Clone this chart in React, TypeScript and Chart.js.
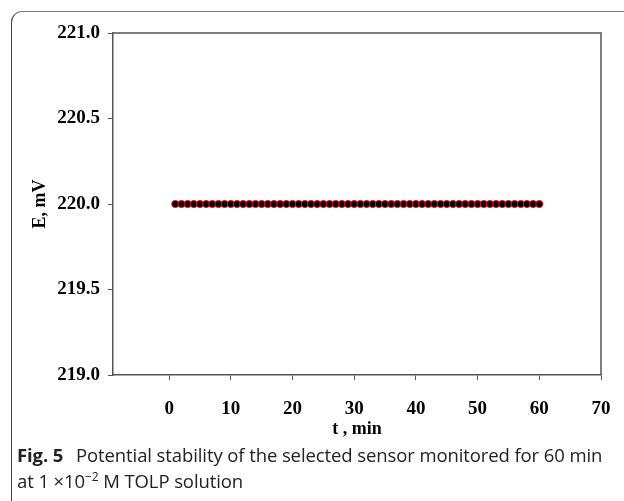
import React, { useEffect, useRef } from "react";
import { Chart, registerables } from "chart.js";

Chart.register(...registerables);

const timesMin: number[] = Array.from({ length: 60 }, (_, i) => i + 1);
const potentialMv: number[] = [
  220, 220, 220, 220, 220, 220, 220, 220, 220, 220,
  220, 220, 220, 220, 220, 220, 220, 220, 220, 220,
  220, 220, 220, 220, 220, 220, 220, 220, 220, 220,
  220, 220, 220, 220, 220, 220, 220, 220, 220, 220,
  220, 220, 220, 220, 220, 220, 220, 220, 220, 220,
  220, 220, 220, 220, 220, 220, 220, 220, 220, 220,
];
const xTicks: number[] = [0, 10, 20, 30, 40, 50, 60, 70];
const yTicks: number[] = [219, 219.5, 220, 220.5, 221];
const xTitle = "t , min";
const yTitle = "E, mV";

const serif = "'Liberation Serif', 'Times New Roman', serif";

export default function App() {
  const ref = useRef<HTMLCanvasElement | null>(null);

  useEffect(() => {
    if (!ref.current) return;
    const chart = new Chart(ref.current, {
      type: "scatter",
      data: {
        datasets: [
          {
            data: timesMin.map((t, i) => ({ x: t, y: potentialMv[i] })),
            backgroundColor: "#000000",
            borderColor: "#e8101a",
            borderWidth: 1,
            pointRadius: 3.6,
          },
        ],
      },
      options: {
        animation: false,
        responsive: false,
        layout: { padding: { top: 33, right: 23, left: 0, bottom: 0 } },
        plugins: { legend: { display: false }, tooltip: { enabled: false } },
        scales: {
          x: {
            type: "linear",
            min: -9.1,
            max: 70,
            afterBuildTicks: (s: any) => {
              s.ticks = xTicks.map((v) => ({ value: v }));
            },
            afterFit: (s: any) => {
              s.height = 70;
              s.paddingLeft = 0;
              s.paddingRight = 0;
            },
            grid: {
              drawOnChartArea: false,
              drawTicks: true,
              tickLength: 5,
              color: "#555",
            },
            border: { color: "#555", width: 1.5 },
            ticks: {
              color: "#000",
              font: { family: serif, size: 19, weight: "bold" },
              padding: 18,
              maxRotation: 0,
              callback: (v: any) => String(v),
            },
            title: {
              display: true,
              text: xTitle,
              color: "#000",
              font: { family: serif, size: 18, weight: "bold" },
              padding: { top: 0, bottom: 5 },
            },
          },
          y: {
            type: "linear",
            min: 219,
            max: 221,
            afterBuildTicks: (s: any) => {
              s.ticks = yTicks.map((v) => ({ value: v }));
            },
            afterFit: (s: any) => {
              s.width = 113;
              s.paddingTop = 0;
              s.paddingBottom = 0;
            },
            grid: {
              drawOnChartArea: false,
              drawTicks: true,
              tickLength: 5,
              color: "#555",
            },
            border: { color: "#555", width: 1.5 },
            ticks: {
              color: "#000",
              font: { family: serif, size: 19, weight: "bold" },
              padding: 8,
              callback: (v: any) => Number(v).toFixed(1),
            },
            title: {
              display: true,
              text: yTitle,
              color: "#000",
              font: { family: serif, size: 18, weight: "bold" },
              padding: { top: 30, bottom: 0 },
            },
          },
        },
      },
      plugins: [
        {
          id: "frameRight",
          afterDraw: (c: any) => {
            const { ctx, chartArea } = c;
            ctx.save();
            ctx.strokeStyle = "#555";
            ctx.lineWidth = 1.5;
            ctx.beginPath();
            ctx.moveTo(chartArea.left, chartArea.top);
            ctx.lineTo(chartArea.right, chartArea.top);
            ctx.lineTo(chartArea.right, chartArea.bottom);
            ctx.stroke();
            ctx.restore();
          },
        },
      ],
    } as any);
    return () => chart.destroy();
  }, []);

  return (
    <div
      style={{
        position: "fixed",
        left: 0,
        top: 0,
        width: 624,
        height: 501,
        background: "#fff",
        overflow: "hidden",
      }}
    >
      <div
        style={{
          position: "absolute",
          left: 11,
          top: 11,
          width: 700,
          height: 600,
          borderLeft: "1.5px solid #444",
          borderTop: "1.5px solid #777",
          borderTopLeftRadius: 11,
        }}
      />
      <canvas
        ref={ref}
        width={624}
        height={445}
        style={{ position: "absolute", left: 0, top: 0, width: 624, height: 445 }}
      />
      <div
        style={{
          position: "absolute",
          left: 17,
          top: 442,
          width: 620,
          fontFamily: "'Open Sans', 'Noto Sans', sans-serif",
          fontSize: 18.5,
          lineHeight: "26px",
          color: "#222",
          letterSpacing: -0.1,
          whiteSpace: "nowrap",
        }}
      >
        <div>
          <b style={{ marginRight: 8 }}>Fig. 5</b> Potential stability of the selected sensor monitored for 60 min
        </div>
        <div>
          at 1 ×10<sup style={{ fontSize: 12, verticalAlign: "7px", lineHeight: 0 }}>−2</sup> M TOLP solution
        </div>
      </div>
    </div>
  );
}
